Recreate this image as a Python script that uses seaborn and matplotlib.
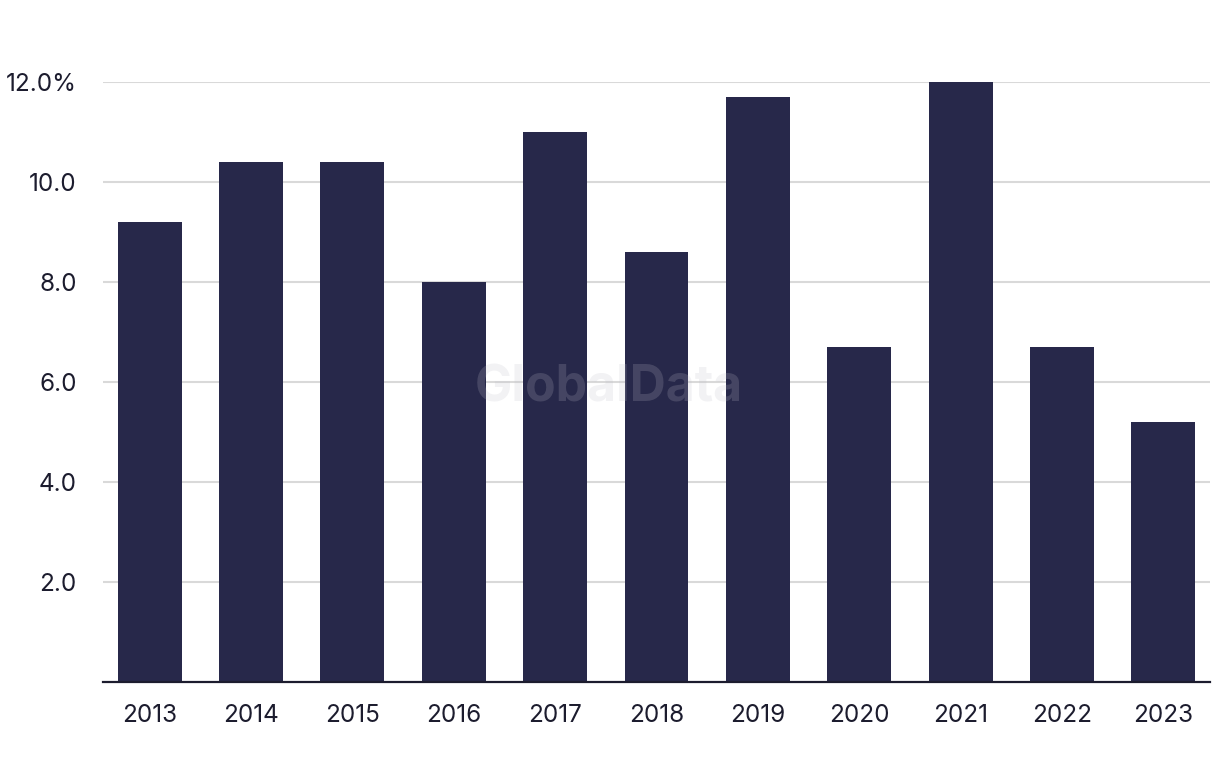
import matplotlib
matplotlib.use("Agg")
import matplotlib.pyplot as plt
import pandas as pd
import seaborn as sns

YEARS = ["2013", "2014", "2015", "2016", "2017", "2018", "2019", "2020", "2021", "2022", "2023"]
VALUES = [9.2, 10.4, 10.4, 8.0, 11.0, 8.6, 11.7, 6.7, 12.0, 6.7, 5.2]
Y_TICKS = [2, 4, 6, 8, 10, 12]
Y_TICK_LABELS = ["2.0", "4.0", "6.0", "8.0", "10.0", "12.0%"]

BAR_COLOR = "#27284a"
TEXT_COLOR = "#1c1c2e"

sns.set_theme(style="white")
plt.rcParams["font.family"] = ["Inter", "DejaVu Sans"]

df = pd.DataFrame({"year": YEARS, "value": VALUES})

fig = plt.figure(figsize=(12.2, 7.78), dpi=100)
ax = fig.add_axes([103 / 1220, 1 - 682 / 778, (1210 - 103) / 1220, 600 / 778])

sns.barplot(data=df, x="year", y="value", color=BAR_COLOR, width=0.63,
            saturation=1, linewidth=0, ax=ax, zorder=2)

ax.set_ylim(0, 12)
ax.set_xlim(-0.46, len(YEARS) - 0.54)
ax.set_yticks(Y_TICKS)
ax.set_yticklabels(Y_TICK_LABELS)
ax.yaxis.grid(True, color="#d9d9d9", linewidth=1.5, zorder=0)
ax.set_axisbelow(True)
ax.set_xlabel("")
ax.set_ylabel("")

for side in ["top", "right", "left"]:
    ax.spines[side].set_visible(False)
ax.spines["bottom"].set_color(TEXT_COLOR)
ax.spines["bottom"].set_linewidth(1.6)

ax.tick_params(axis="y", length=0, pad=19, labelsize=17.5, labelcolor=TEXT_COLOR)
ax.tick_params(axis="x", length=0, pad=16, labelsize=17.5, labelcolor=TEXT_COLOR)

ax.text(0.457, 0.49, "GlobalData", transform=ax.transAxes, ha="center", va="center",
        fontsize=36, fontweight="bold", color=(190 / 255, 190 / 255, 200 / 255),
        alpha=0.2, zorder=5)

fig.savefig("out.png", dpi=100)
